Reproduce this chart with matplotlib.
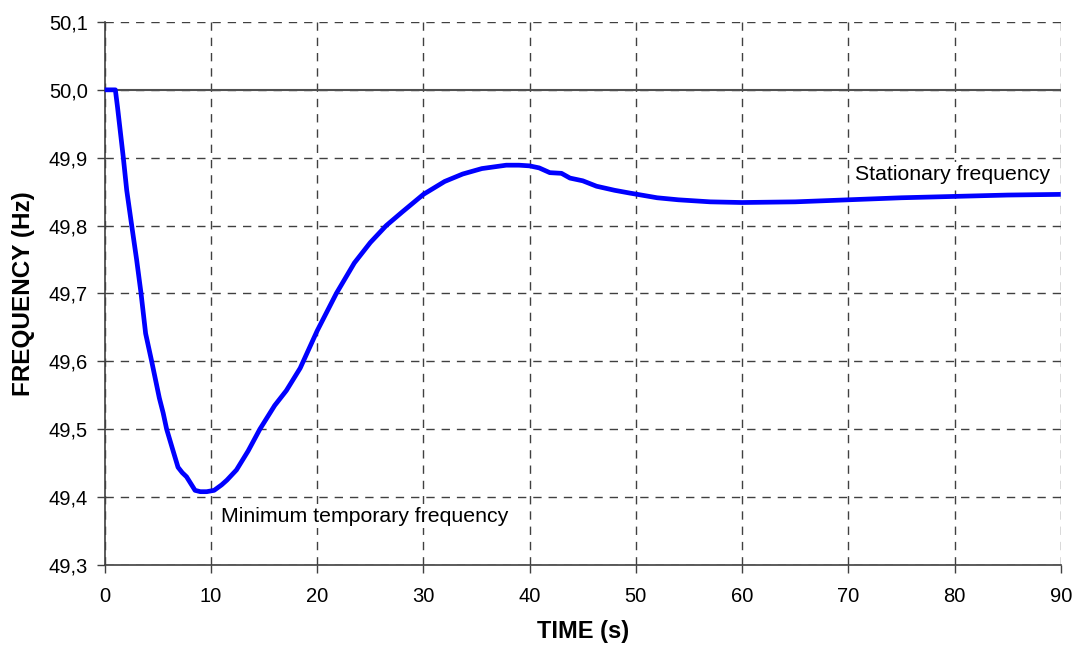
import numpy as np
import matplotlib
matplotlib.use('Agg')
import matplotlib.pyplot as plt

plt.rcParams['font.family'] = ['Liberation Sans', 'DejaVu Sans']

# frequency response
time = [0, 1.0, 1.2, 1.75, 2.07, 2.54, 3.0, 3.42, 3.85, 4.42, 5.14, 5.5, 5.83,
        6.4, 6.9, 7.3, 7.7, 8.1, 8.5, 9.0, 9.6, 10.3, 11.0, 11.5, 12.4, 13.5,
        14.6, 16.0, 17.1, 18.4, 20.0, 21.8, 23.5, 25.0, 26.5, 28.0, 30.0, 32.0,
        33.7, 35.5, 37.8, 39.0, 40.0, 40.9, 41.9, 43.0, 43.8, 45.0, 46.3, 48.0,
        49.4, 52.0, 54.0, 57.0, 60.0, 65.0, 70.0, 75.0, 80.0, 85.0, 90.0]
freq = [50.0, 50.0, 49.975, 49.9, 49.852, 49.8, 49.75, 49.7, 49.641, 49.6,
        49.546, 49.524, 49.5, 49.47, 49.444, 49.436, 49.43, 49.42, 49.41,
        49.408, 49.408, 49.41, 49.418, 49.425, 49.44, 49.468, 49.5, 49.535,
        49.557, 49.59, 49.645, 49.7, 49.745, 49.775, 49.8, 49.82, 49.846,
        49.865, 49.876, 49.884, 49.889, 49.889, 49.888, 49.885, 49.878, 49.877,
        49.87, 49.866, 49.858, 49.852, 49.848, 49.841, 49.838, 49.835, 49.834,
        49.835, 49.838, 49.841, 49.843, 49.845, 49.846]

xticks = np.arange(0, 91, 10)
yticks = np.round(np.arange(49.3, 50.11, 0.1), 1)

fig = plt.figure(figsize=(10.72, 6.46), dpi=100)
ax = fig.add_axes([0.0977, 0.1254, 0.8918, 0.8406])

ax.set_xlim(0, 90)
ax.set_ylim(49.3, 50.1)
ax.set_xticks(xticks)
ax.set_yticks(yticks)
ax.set_yticklabels([('%.1f' % v).replace('.', ',') for v in yticks])
ax.grid(True, color='#404040', linestyle=(0, (6, 5)), linewidth=1.0)
ax.axhline(50.0, color='#505050', linewidth=1.5, zorder=2)

ax.plot(time, freq, color='#0000ff', linewidth=3.4, zorder=3, clip_on=False,
        solid_capstyle='butt', solid_joinstyle='round')

ax.spines['top'].set_visible(False)
ax.spines['right'].set_visible(False)
for s in ['left', 'bottom']:
    ax.spines[s].set_color('#404040')
    ax.spines[s].set_linewidth(1.2)
ax.tick_params(direction='out', length=6, width=1.0, color='#404040',
               labelsize=14.5, pad=6)
ax.tick_params(axis='x', pad=10)

ax.set_xlabel('TIME (s)', fontsize=17, fontweight='bold', labelpad=10)
ax.set_ylabel('FREQUENCY (Hz)', fontsize=17.5, fontweight='bold', labelpad=10)

box = dict(facecolor='white', edgecolor='none', pad=1.5)
ax.text(70.6, 49.876, 'Stationary frequency', fontsize=15.3, va='center',
        ha='left', bbox=box, zorder=4)
ax.text(10.9, 49.372, 'Minimum temporary frequency', fontsize=15.3,
        va='center', ha='left', bbox=box, zorder=4)

plt.savefig('out.png', dpi=100)
